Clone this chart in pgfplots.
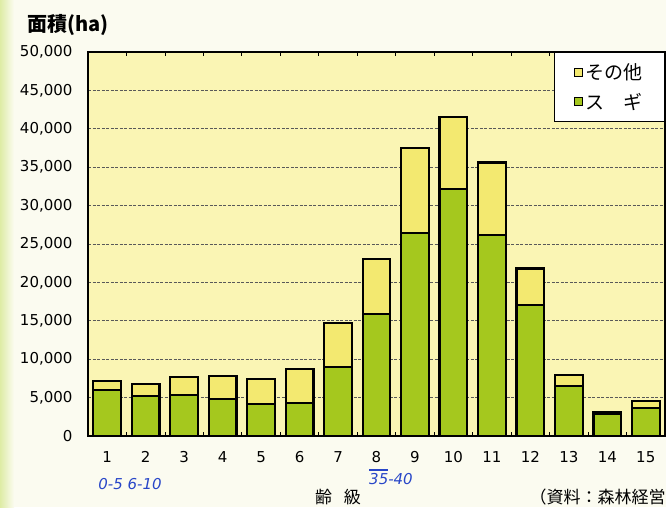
\documentclass[border=0pt]{standalone}
\usepackage{fontspec}
\setmainfont{DejaVu Sans}
\newfontfamily\jp{Noto Sans CJK JP}
\usepackage{pgfplots}
\pgfplotsset{compat=1.18}
\definecolor{pagebg}{RGB}{251,251,240}
\definecolor{plotbg}{RGB}{250,245,180}
\definecolor{sugi}{RGB}{165,200,30}
\definecolor{other}{RGB}{243,233,112}
\definecolor{edge}{RGB}{222,236,165}
\definecolor{pen}{RGB}{40,70,200}
\begin{document}
\begin{tikzpicture}
\fill[pagebg] (0pt,0pt) rectangle (666pt,507pt);
\shade[left color=edge, right color=pagebg] (0pt,0pt) rectangle (14pt,507pt);
\path[use as bounding box] (0pt,0pt) rectangle (666pt,507pt);
\begin{axis}[
  at={(88pt,71pt)}, anchor=south west,
  scale only axis, width=577pt, height=384pt,
  ybar stacked, bar width=27.7pt,
  xmin=0.5, xmax=15.5, ymin=0, ymax=50000,
  xtick={1,...,15}, minor x tick num=1,
  ytick={0,5000,...,50000},
  scaled y ticks=false,
  yticklabel style={/pgf/number format/1000 sep={,}, /pgf/number format/assume math mode=true,
    font=\fontsize{15}{15}\selectfont, anchor=east, xshift=-12pt},
  xticklabel style={/pgf/number format/assume math mode=true, font=\fontsize{15}{15}\selectfont, yshift=-12pt},
  axis background/.style={fill=plotbg},
  axis line style={black, line width=1.8pt},
  ymajorgrids,
  major grid style={dash pattern=on 3pt off 1.5pt, black!65, line width=0.7pt},
  major x tick style={draw=none},
  major y tick style={draw=none},
  minor x tick style={black, line width=0.8pt},
  minor tick length=4pt,
  tick align=inside,
  reverse legend,
  legend cell align=left,
  legend style={at={(1,1)}, anchor=north east, draw=black, line width=1.2pt, fill=white,
    font=\jp\fontsize{19}{19}\selectfont, inner xsep=20pt, inner ysep=9pt, row sep=8pt},
  legend image code/.code={\draw[#1, line width=1pt] (0pt,-4pt) rectangle (8pt,4pt);},
]
\addplot[fill=sugi, draw=black, line width=2.2pt] coordinates {
(1,5990) (2,5250) (3,5340) (4,4770) (5,4170) (6,4340) (7,8940) (8,15930)
(9,26400) (10,32200) (11,26200) (12,17060) (13,6500) (14,2860) (15,3600)};
\addlegendentry{ス　ギ}
\addplot[fill=other, draw=black, line width=2.2pt] coordinates {
(1,1170) (2,1480) (3,2380) (4,3080) (5,3210) (6,4430) (7,5730) (8,7070)
(9,11100) (10,9300) (11,9400) (12,4740) (13,1400) (14,310) (15,1000)};
\addlegendentry{その他}
\end{axis}
\node[anchor=west, font=\jp\bfseries\fontsize{20}{20}\selectfont] at (24pt,482pt) {面積(ha)};
\node[font=\jp\fontsize{17}{17}\selectfont] at (338pt,10pt) {齢\hspace{12pt}級};
\node[anchor=west, font=\jp\fontsize{17}{17}\selectfont] at (526pt,10pt) {（資料：森林経営局）};
\node[pen, font=\itshape\fontsize{15}{15}\selectfont] at (130pt,23pt) {0-5 6-10};
\node[pen, font=\itshape\fontsize{15}{15}\selectfont] at (391pt,28pt) {35-40};
\draw[pen, line width=1.5pt] (369pt,37pt) -- (388pt,37pt);
\end{tikzpicture}
\end{document}
